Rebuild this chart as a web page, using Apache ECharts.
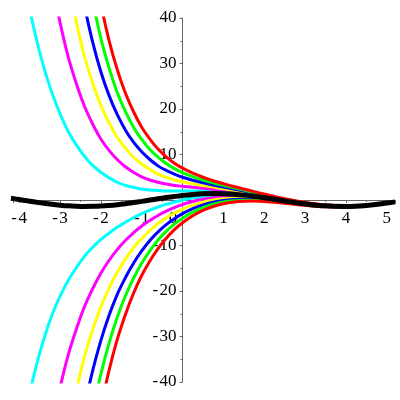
<!DOCTYPE html>
<html>
<head>
<meta charset="utf-8">
<title>solution curves</title>
<script src="https://cdn.jsdelivr.net/npm/echarts@6/dist/echarts.min.js"></script>
<style>
  html, body { margin: 0; padding: 0; background: #fff; }
  #myChart { width: 400px; height: 400px; }
</style>
</head>
<body>
<div id="myChart"></div>
<script>
// x samples shared by every curve
const xs = [-4.2, -4, -3.8, -3.6, -3.4, -3.2, -3, -2.8, -2.6, -2.4, -2.2, -2, -1.8, -1.6, -1.4, -1.2, -1, -0.8, -0.6, -0.4, -0.2,
  0, 0.25, 0.5, 0.75, 1, 1.25, 1.5, 1.75, 2, 2.5, 3, 3.5, 4, 4.5, 5, 5.2];

// upper family (null = off the top of the plot)
const cyanUp = [null, null, 44.5, 36.2, 29.3, 23.6, 19.0, 15.1, 12.1, 9.6, 7.6, 6.1, 4.9, 3.9, 3.2, 2.8, 2.4, 2.2, 2.1, 2.0, 2.0,
  2.0, 2.0, 1.97, 1.88, 1.75, 1.55, 1.29, 0.98, 0.63, -0.12, -0.80, -1.26, -1.39, -1.18, -0.67, -0.40];
const magentaUp = [null, null, null, null, null, 48.1, 39.1, 31.5, 25.6, 20.6, 16.7, 13.4, 10.9, 8.9, 7.3, 6.1, 5.1, 4.4, 3.9, 3.5, 3.2,
  3.0, 2.78, 2.57, 2.35, 2.12, 1.83, 1.52, 1.16, 0.76, -0.04, -0.75, -1.23, -1.37, -1.17, -0.67, -0.40];
const yellowUp = [null, null, null, null, null, null, null, 47.9, 39.1, 31.6, 25.7, 20.8, 17.0, 13.8, 11.4, 9.4, 7.9, 6.7, 5.7, 5.0, 4.4,
  4.0, 3.56, 3.18, 2.83, 2.48, 2.12, 1.74, 1.33, 0.90, 0.05, -0.70, -1.20, -1.36, -1.16, -0.66, -0.39];
const blueUp = [null, null, null, null, null, null, null, null, null, 42.6, 34.7, 28.2, 23.0, 18.8, 15.4, 12.7, 10.6, 8.9, 7.5, 6.5, 5.7,
  5.0, 4.34, 3.79, 3.30, 2.85, 2.41, 1.96, 1.51, 1.03, 0.13, -0.65, -1.17, -1.34, -1.15, -0.65, -0.39];
const greenUp = [null, null, null, null, null, null, null, null, null, null, 43.8, 35.6, 29.1, 23.7, 19.5, 16.0, 13.3, 11.1, 9.4, 8.0, 6.9,
  6.0, 5.12, 4.40, 3.77, 3.22, 2.70, 2.19, 1.68, 1.17, 0.21, -0.60, -1.14, -1.32, -1.13, -0.65, -0.38];
const redUp = [null, null, null, null, null, null, null, null, null, null, null, 43.0, 35.1, 28.7, 23.5, 19.4, 16.0, 13.4, 11.2, 9.5, 8.1,
  7.0, 5.89, 5.00, 4.24, 3.59, 2.98, 2.41, 1.85, 1.30, 0.29, -0.55, -1.11, -1.30, -1.12, -0.64, -0.38];

// lower family (null = off the bottom)
const cyanLo = [null, null, -44.9, -37.1, -30.7, -25.4, -21.2, -17.7, -14.9, -12.4, -10.4, -8.7, -7.3, -6.0, -4.9, -3.9, -3.0, -2.25, -1.56, -0.96, -0.44,
  0, 0.44, 0.75, 0.94, 1.01, 0.97, 0.85, 0.64, 0.36, -0.28, -0.90, -1.32, -1.43, -1.20, -0.69, -0.42];
const magentaLo = [null, null, null, null, null, -49.9, -41.3, -34.1, -28.4, -23.4, -19.5, -16.1, -13.3, -10.9, -8.9, -7.2, -5.7, -4.5, -3.4, -2.45, -1.66,
  -1.0, -0.34, 0.15, 0.47, 0.64, 0.69, 0.62, 0.46, 0.22, -0.36, -0.95, -1.35, -1.45, -1.21, -0.69, -0.42];
const yellowLo = [null, null, null, null, null, null, null, -50.5, -41.9, -34.4, -28.5, -23.5, -19.4, -15.9, -13.0, -10.5, -8.5, -6.7, -5.2, -3.9, -2.9,
  -2.0, -1.12, -0.46, -0.01, 0.28, 0.40, 0.40, 0.29, 0.08, -0.45, -1.00, -1.38, -1.46, -1.22, -0.70, -0.43];
const blueLo = [null, null, null, null, null, null, null, null, null, -45.4, -37.5, -30.9, -25.4, -20.8, -17.1, -13.9, -11.2, -8.9, -7.0, -5.4, -4.1,
  -3.0, -1.90, -1.07, -0.48, -0.09, 0.11, 0.18, 0.11, -0.05, -0.53, -1.05, -1.41, -1.48, -1.23, -0.71, -0.43];
const greenLo = [null, null, null, null, null, null, null, null, null, null, -46.6, -38.3, -31.5, -25.8, -21.1, -17.2, -13.9, -11.2, -8.8, -6.9, -5.3,
  -4.0, -2.68, -1.68, -0.95, -0.46, -0.18, -0.05, -0.06, -0.19, -0.61, -1.10, -1.44, -1.50, -1.25, -0.71, -0.44];
const redLo = [null, null, null, null, null, null, null, null, null, null, null, -45.7, -37.5, -30.7, -25.2, -20.5, -16.6, -13.4, -10.7, -8.4, -6.5,
  -5.0, -3.45, -2.28, -1.42, -0.83, -0.46, -0.27, -0.23, -0.32, -0.69, -1.15, -1.47, -1.52, -1.26, -0.72, -0.44];

// the thick black curve everything settles onto
const blackCurve = [0.38, 0.10, -0.18, -0.45, -0.71, -0.94, -1.13, -1.28, -1.37, -1.41, -1.40, -1.33, -1.20, -1.03, -0.82, -0.57, -0.30, -0.02, 0.26, 0.53, 0.78,
  1.00, 1.22, 1.36, 1.41, 1.38, 1.26, 1.07, 0.81, 0.49, -0.20, -0.85, -1.29, -1.41, -1.19, -0.68, -0.41];

// tick labels
const xTickLabels = [-4, -3, -2, -1, 0, 1, 2, 3, 4, 5];
const yTickLabels = [-40, -30, -20, -10, 10, 20, 30, 40];

const xMin = -4.15, xMax = 5.2;
const yMin = -40, yMax = 40;

const curves = [
  { name: 'cyan+', color: '#00ffff', ys: cyanUp },
  { name: 'cyan-', color: '#00ffff', ys: cyanLo },
  { name: 'magenta+', color: '#ff00ff', ys: magentaUp },
  { name: 'magenta-', color: '#ff00ff', ys: magentaLo },
  { name: 'yellow+', color: '#ffff00', ys: yellowUp },
  { name: 'yellow-', color: '#ffff00', ys: yellowLo },
  { name: 'blue+', color: '#0000ff', ys: blueUp },
  { name: 'blue-', color: '#0000ff', ys: blueLo },
  { name: 'green+', color: '#00ff00', ys: greenUp },
  { name: 'green-', color: '#00ff00', ys: greenLo },
  { name: 'red+', color: '#ff0000', ys: redUp },
  { name: 'red-', color: '#ff0000', ys: redLo },
  { name: 'black', color: '#000000', ys: blackCurve, width: 5 }
];

function toPoints(ys) {
  return xs.map((x, i) => [x, ys[i]]).filter(p => p[1] !== null);
}

function minusLabel(v) {
  // maple style minus with a small gap
  return v < 0 ? '-\u200a' + Math.abs(v) : String(v);
}

const labelFont = {
  fontFamily: '"Liberation Serif", "DejaVu Serif", serif',
  fontSize: 17,
  color: '#000'
};

// grid box in pixels
const gLeft = 13, gRight = 5, gTop = 18, gBottom = 18;
const gW = 400 - gLeft - gRight, gH = 400 - gTop - gBottom;
// move the axes so they cross at (0, 0)
const xAxisOffset = -gH * (0 - yMin) / (yMax - yMin);
const yAxisOffset = -gW * (0 - xMin) / (xMax - xMin);

const option = {
  animation: false,
  backgroundColor: '#fff',
  grid: { left: gLeft, right: gRight, top: gTop, bottom: gBottom, containLabel: false, outerBoundsMode: 'none' },
  xAxis: {
    type: 'value',
    min: xMin,
    max: xMax,
    splitNumber: 10,
    position: 'bottom',
    offset: xAxisOffset,
    splitLine: { show: false },
    axisLine: { onZero: false, lineStyle: { color: '#666', width: 1 } },
    axisTick: { show: true, length: 3, lineStyle: { color: '#666' } },
    minorTick: { show: true, splitNumber: 2, length: 2, lineStyle: { color: '#666' } },
    axisLabel: Object.assign({}, labelFont, {
      margin: 10,
      showMinLabel: false,
      showMaxLabel: false,
      hideOverlap: false,
      formatter: function (v) {
        const r = Math.round(v);
        if (Math.abs(v - r) > 1e-6 || xTickLabels.indexOf(r) < 0) return '';
        if (r === 0) return '{z|0}';
        return minusLabel(r);
      },
      rich: {
        z: Object.assign({}, labelFont, { padding: [0, 19, 0, 0] })
      }
    })
  },
  yAxis: {
    type: 'value',
    min: yMin,
    max: yMax,
    interval: 10,
    position: 'left',
    offset: yAxisOffset,
    splitLine: { show: false },
    axisLine: { onZero: false, lineStyle: { color: '#666', width: 1 } },
    axisTick: { show: true, length: 3, lineStyle: { color: '#666' } },
    minorTick: { show: true, splitNumber: 2, length: 2, lineStyle: { color: '#666' } },
    axisLabel: Object.assign({}, labelFont, {
      margin: 6,
      hideOverlap: false,
      formatter: function (v) {
        return yTickLabels.indexOf(v) < 0 ? '' : minusLabel(v);
      }
    })
  },
  series: curves.map(c => ({
    name: c.name,
    type: 'line',
    data: toPoints(c.ys),
    smooth: 0.4,
    showSymbol: false,
    symbol: 'none',
    clip: true,
    silent: true,
    lineStyle: { color: c.color, width: c.width || 3 }
  }))
};

let myChart = echarts.init(document.getElementById('myChart'));
myChart.setOption(option);
</script>
</body>
</html>
